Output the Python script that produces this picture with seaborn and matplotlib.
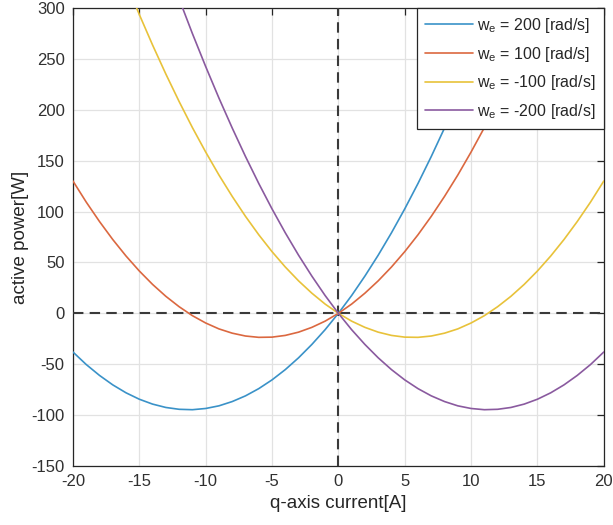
import matplotlib
matplotlib.use("Agg")
import matplotlib.pyplot as plt
import numpy as np
import pandas as pd
import seaborn as sns

# q-axis current [A]
iq = list(range(-20, 21))

# active power [W] for each electrical speed
p_we_200 = [-38.0, -50.3, -61.0, -70.3, -78.1, -84.4, -89.2, -92.5, -94.3, -94.7,
            -93.5, -90.9, -86.7, -81.1, -74.0, -65.4, -55.3, -43.7, -30.6, -16.1,
            0.0, 17.5, 36.6, 57.1, 79.1, 102.6, 127.6, 154.1, 182.1, 211.5,
            242.5, 274.9, 308.9, 344.3, 381.2, 419.6, 459.5, 500.9, 543.8, 588.1, 634.0]
p_we_100 = [130.0, 109.3, 90.2, 72.5, 56.3, 41.6, 28.4, 16.7, 6.5, -2.3,
            -9.5, -15.3, -19.5, -22.3, -23.6, -23.4, -21.7, -18.5, -13.8, -7.7,
            0.0, 9.1, 19.8, 31.9, 45.5, 60.6, 77.2, 95.3, 114.9, 135.9,
            158.5, 182.5, 208.1, 235.1, 263.6, 293.6, 325.1, 358.1, 392.6, 428.5, 466.0]
p_we_m100 = [466.0, 428.5, 392.6, 358.1, 325.1, 293.6, 263.6, 235.1, 208.1, 182.5,
             158.5, 135.9, 114.9, 95.3, 77.2, 60.6, 45.5, 31.9, 19.8, 9.1,
             0.0, -7.7, -13.8, -18.5, -21.7, -23.4, -23.6, -22.3, -19.5, -15.3,
             -9.5, -2.3, 6.5, 16.7, 28.4, 41.6, 56.3, 72.5, 90.2, 109.3, 130.0]
p_we_m200 = [634.0, 588.1, 543.8, 500.9, 459.5, 419.6, 381.2, 344.3, 308.9, 274.9,
             242.5, 211.5, 182.1, 154.1, 127.6, 102.6, 79.1, 57.1, 36.6, 17.5,
             0.0, -16.1, -30.6, -43.7, -55.3, -65.4, -74.0, -81.1, -86.7, -90.9,
             -93.5, -94.7, -94.3, -92.5, -89.2, -84.4, -78.1, -70.3, -61.0, -50.3, -38.0]

series_labels = [r"w$_\mathregular{e}$ = 200 [rad/s]",
                 r"w$_\mathregular{e}$ = 100 [rad/s]",
                 r"w$_\mathregular{e}$ = -100 [rad/s]",
                 r"w$_\mathregular{e}$ = -200 [rad/s]"]
series_values = [p_we_200, p_we_100, p_we_m100, p_we_m200]
colors = ["#3a92c8", "#db6840", "#e8c23a", "#8a5a9f"]

x_ticks = [-20, -15, -10, -5, 0, 5, 10, 15, 20]
y_ticks = [-150, -100, -50, 0, 50, 100, 150, 200, 250, 300]

df = pd.concat(
    [pd.DataFrame({"iq": iq, "power": vals, "speed": lab})
     for lab, vals in zip(series_labels, series_values)],
    ignore_index=True,
)

sns.set_style("white")
plt.rcParams["font.family"] = ["Liberation Sans", "DejaVu Sans"]
plt.rcParams["mathtext.fontset"] = "custom"
plt.rcParams["mathtext.rm"] = "Liberation Sans"
plt.rcParams["axes.unicode_minus"] = False

fig = plt.figure(figsize=(6.13, 5.25), dpi=100)
ax = fig.add_axes([0.119, 0.1124, 0.866, 0.8724])

ax.grid(True, color="#e2e2e2", linewidth=0.9, zorder=0)
ax.set_axisbelow(True)

# zero reference lines
ax.axvline(0, color="#3a3a3a", linestyle=(0, (5, 3)), linewidth=1.5, zorder=3)
ax.axhline(0, color="#3a3a3a", linestyle=(0, (5, 3)), linewidth=1.5, zorder=3)

sns.lineplot(data=df, x="iq", y="power", hue="speed", palette=colors,
             linewidth=1.2, ax=ax, zorder=4, legend=True)

ax.set_xlim(-20, 20)
ax.set_ylim(-150, 300)
ax.set_xticks(x_ticks)
ax.set_yticks(y_ticks)
ax.tick_params(direction="in", length=5, width=0.9, colors="#262626",
               labelsize=12, top=True, right=True, labelcolor="#303030", pad=6)
for s in ax.spines.values():
    s.set_visible(True)
    s.set_color("#262626")
    s.set_linewidth(0.9)

ax.set_xlabel("q-axis current[A]", fontsize=13.5, color="#262626", labelpad=4)
ax.set_ylabel("active power[W]", fontsize=13.5, color="#262626", labelpad=2)

leg = ax.legend(loc="upper right", borderaxespad=0, fontsize=11.5,
                frameon=True, fancybox=False, handlelength=3.0,
                labelspacing=0.6, borderpad=0.5, handletextpad=0.3)
leg.get_frame().set_edgecolor("#262626")
leg.get_frame().set_linewidth(0.9)
leg.get_frame().set_alpha(1)
for line in leg.get_lines():
    line.set_linewidth(1.2)

fig.savefig("out.png", dpi=100)
